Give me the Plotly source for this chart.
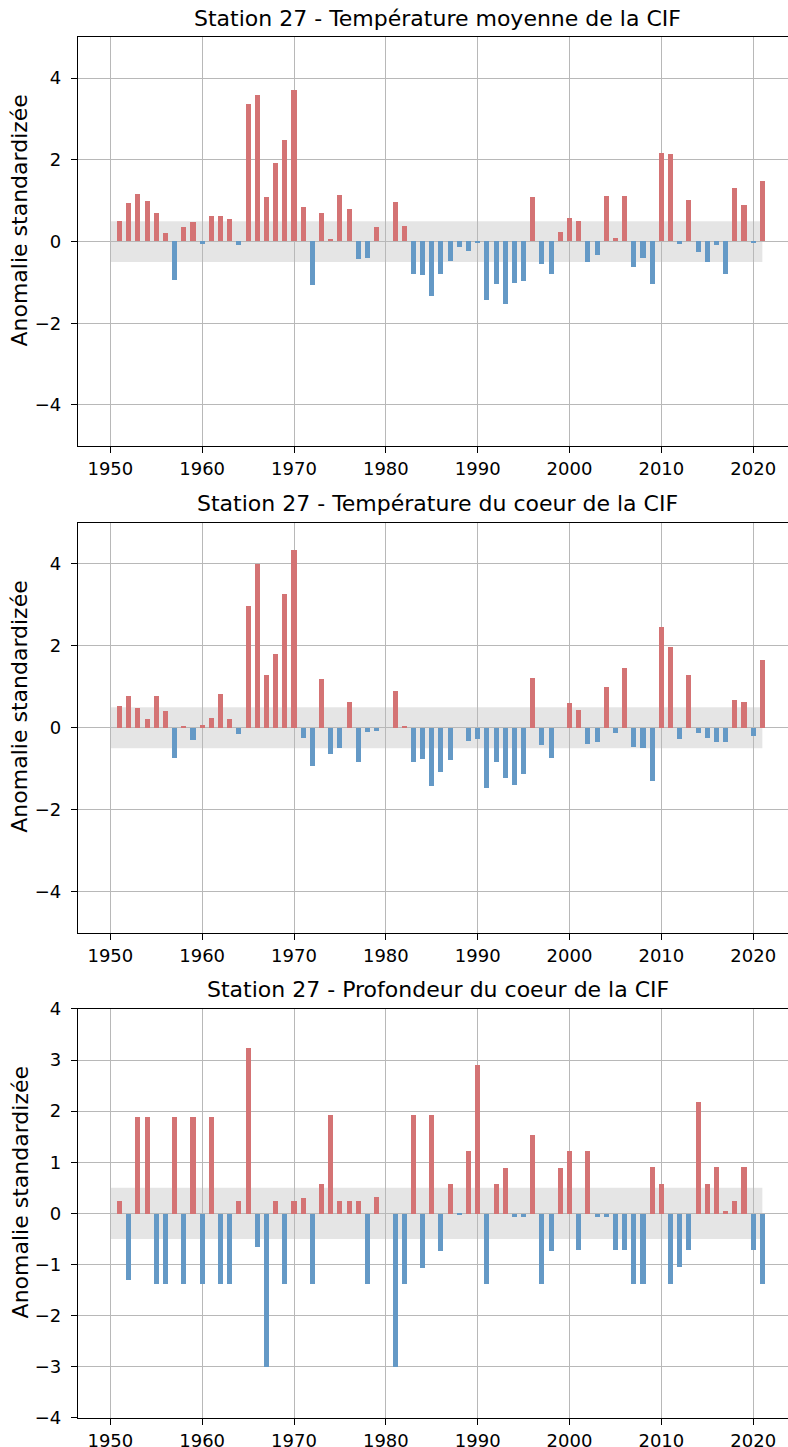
import plotly.graph_objects as go

years = list(range(1951, 2022))

temp_moyenne = [0.50, 0.93, 1.15, 0.98, 0.70, 0.19, -0.94, 0.36, 0.48, -0.07,
                0.61, 0.61, 0.54, -0.10, 3.35, 3.59, 1.09, 1.91, 2.48, 3.71,
                0.84, -1.08, 0.69, 0.06, 1.13, 0.78, -0.44, -0.42, 0.36, 0.0,
                0.97, 0.38, -0.80, -0.82, -1.33, -0.81, -0.48, -0.14, -0.25, -0.03,
                -1.45, -1.04, -1.53, -1.01, -0.98, 1.09, -0.55, -0.81, 0.23, 0.56,
                0.50, -0.50, -0.33, 1.12, 0.07, 1.11, -0.64, -0.41, -1.05, 2.17,
                2.13, -0.07, 1.00, -0.27, -0.51, -0.09, -0.81, 1.31, 0.88, -0.05,
                1.48]

temp_coeur = [0.54, 0.79, 0.49, 0.23, 0.78, 0.41, -0.72, 0.06, -0.30, 0.08,
              0.25, 0.84, 0.23, -0.15, 2.98, 3.99, 1.29, 1.81, 3.26, 4.34,
              -0.24, -0.93, 1.20, -0.63, -0.49, 0.64, -0.82, -0.09, -0.07, 0.0,
              0.91, 0.03, -0.82, -0.76, -1.41, -1.08, -0.79, 0.0, -0.31, -0.28,
              -1.47, -0.83, -1.21, -1.40, -1.11, 1.23, -0.42, -0.72, 0.0, 0.60,
              0.45, -0.39, -0.34, 1.01, -0.11, 1.47, -0.47, -0.48, -1.29, 2.46,
              1.98, -0.28, 1.30, -0.11, -0.24, -0.33, -0.33, 0.68, 0.63, -0.19,
              1.65]

prof_coeur = [0.24, -1.31, 1.88, 1.88, -1.38, -1.38, 1.88, -1.38, 1.88, -1.38,
              1.88, -1.38, -1.38, 0.24, 3.24, -0.65, -3.00, 0.24, -1.38, 0.24,
              0.31, -1.38, 0.57, 1.93, 0.24, 0.24, 0.24, -1.37, 0.32, 0.0,
              -3.00, -1.37, 1.92, -1.06, 1.92, -0.73, 0.57, -0.02, 1.23, 2.90,
              -1.37, 0.57, 0.89, -0.07, -0.07, 1.53, -1.37, -0.73, 0.89, 1.23,
              -0.72, 1.22, -0.07, -0.07, -0.72, -0.72, -1.37, -1.37, 0.90, 0.57,
              -1.37, -1.05, -0.72, 2.19, 0.57, 0.90, 0.05, 0.24, 0.90, -0.72,
              -1.37]

titles = ["Station 27 - Température moyenne de la CIF",
          "Station 27 - Température du coeur de la CIF",
          "Station 27 - Profondeur du coeur de la CIF"]
ylabel = "Anomalie standardizée"
xticks = [1950, 1960, 1970, 1980, 1990, 2000, 2010, 2020]
yticks_temp = [-4, -2, 0, 2, 4]
yticks_prof = [-4, -3, -2, -1, 0, 1, 2, 3, 4]

RED = "#d47374"
BLUE = "#6499c6"
FONT = "DejaVu Sans"
W, H = 788, 1447
L = 78
# pixel extents (top, bottom) of each axes
panels_px = [(37.3, 445.8), (522.7, 932.7), (1008.9, 1417.9)]
yranges = [[-5, 5], [-5, 5], [-4, 4]]
yticks_list = [yticks_temp, yticks_temp, yticks_prof]
series = [temp_moyenne, temp_coeur, prof_coeur]

fig = go.Figure()
annotations = []
shapes = []
for i, (vals, (ptop, pbot)) in enumerate(zip(series, panels_px)):
    n = "" if i == 0 else str(i + 1)
    xa, ya = "x" + n, "y" + n
    colors = [RED if v > 0 else BLUE for v in vals]
    fig.add_trace(go.Bar(x=years, y=vals, width=0.55, marker=dict(color=colors, line=dict(width=0)),
                         xaxis=xa, yaxis=ya, showlegend=False, hoverinfo="x+y"))
    dom = [(H - pbot) / H, (H - ptop) / H]
    axis_common = dict(showgrid=True, gridcolor="#b8b8b8", gridwidth=1.3,
                       showline=True, linecolor="black", linewidth=1.4,
                       ticks="outside", ticklen=6, tickwidth=1.3, tickcolor="black",
                       tickfont=dict(family=FONT, size=18, color="black"),
                       zeroline=False, automargin=False)
    fig.update_layout(**{
        "xaxis" + n: dict(domain=[0, 1], range=[1946.48, 2023.79], tickvals=xticks,
                          anchor=ya, mirror=True, ticklabelstandoff=0, **axis_common),
        "yaxis" + n: dict(domain=dom, range=yranges[i], tickvals=yticks_list[i],
                          anchor=xa, mirror=False, ticklabelstandoff=6, **axis_common),
    })
    # grey +/-0.5 band
    shapes.append(dict(type="rect", xref=xa, yref=ya, x0=1950, x1=2021, y0=-0.5, y1=0.5,
                       fillcolor="rgba(0,0,0,0.1)", line=dict(width=0), layer="below"))
    # title
    annotations.append(dict(text=titles[i], xref="paper", yref="paper",
                            x=(437.5 - L) / (W - L), y=(H - (ptop - 19)) / H,
                            xanchor="center", yanchor="middle", showarrow=False,
                            font=dict(family=FONT, size=22, color="black")))
    annotations.append(dict(text=ylabel, xref="paper", yref="paper", textangle=-90,
                            x=(20 - L) / (W - L), y=(H - ((ptop + pbot) / 2 - 21)) / H,
                            xanchor="center", yanchor="middle", showarrow=False,
                            font=dict(family=FONT, size=22, color="black")))

fig.update_layout(width=W, height=H, margin=dict(l=L, r=0, t=0, b=0, autoexpand=False),
                  plot_bgcolor="white", paper_bgcolor="white",
                  shapes=shapes, annotations=annotations, bargap=0,
                  font=dict(family=FONT, color="black"))
fig.write_html("out.html")
